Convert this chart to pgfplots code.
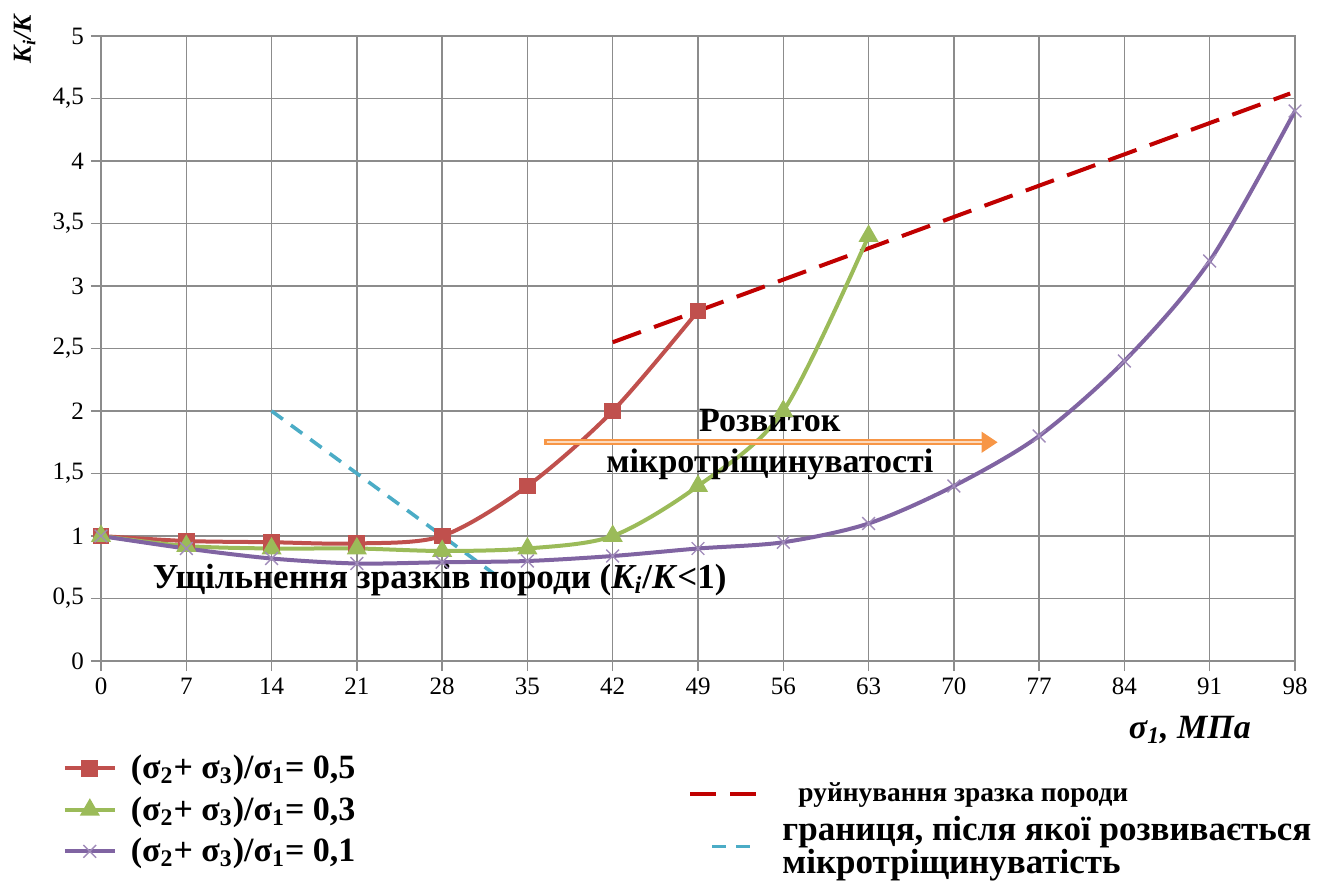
\documentclass[border=0pt]{standalone}
\usepackage{fontspec}
\setmainfont{Liberation Serif}
\usepackage{pgfplots}
\pgfplotsset{compat=1.18}
\usetikzlibrary{arrows.meta}
\definecolor{cRed}{HTML}{C0504D}
\definecolor{cGreen}{HTML}{9BBB59}
\definecolor{cPurple}{HTML}{8064A2}
\definecolor{cDark}{HTML}{C00000}
\definecolor{cCyan}{HTML}{4BACC6}
\definecolor{cOrange}{HTML}{F79646}
\definecolor{cGrid}{HTML}{8C8C8C}
\begin{document}
\begin{tikzpicture}
\path[use as bounding box] (-50.5pt,-110.5pt) rectangle (610pt,330.5pt);
\begin{axis}[
  at={(0,0)}, anchor=south west,
  scale only axis, width=597pt, height=312.5pt,
  xmin=0, xmax=98, ymin=0, ymax=5,
  xtick={0,7,...,98}, ytick={0,0.5,...,5},
  grid=major, grid style={cGrid, line width=0.7pt},
  axis line style={cGrid, line width=0.7pt},
  tick style={cGrid, line width=0.7pt},
  tick align=outside, major tick length=5pt,
  xtick pos=bottom, ytick pos=left,
  ticklabel style={font=\fontsize{12.5}{14}\selectfont},
  /pgf/number format/assume math mode=true,
  /pgf/number format/use comma,
  yticklabel style={/pgf/number format/fixed, /pgf/number format/precision=1},
  xlabel={σ\textsubscript{1}, МПа},
  xlabel style={font=\bfseries\itshape\fontsize{17}{19}\selectfont, at={(rel axis cs:0.912,-0.110)}, anchor=center},
  ylabel={K\textsubscript{\itshape i}/K},
  ylabel style={font=\bfseries\itshape\fontsize{13}{15}\selectfont, at={(rel axis cs:-0.064,0.995)}, anchor=center},
  legend image code/.code={\draw[mark repeat=2,mark phase=2] plot coordinates {(0cm,0cm) (0.44cm,0cm) (0.88cm,0cm)};},
  legend style={at={(rel axis cs:-0.034,-0.140)}, anchor=north west, draw=none, fill=none,
    font=\bfseries\fontsize{17}{19.5}\selectfont, row sep=3.5pt, inner sep=1pt},
  legend cell align=left,
]
% dashed lines
\addplot[cDark, line width=2pt, dash pattern=on 15pt off 7pt, forget plot] coordinates {(42,2.55) (97.6,4.54)};
\addplot[cCyan, line width=1.8pt, dash pattern=on 7pt off 5pt, forget plot] coordinates {(14,2.0) (32.5,0.68)};
% series
\addplot[cRed, line width=2pt, smooth, mark=square*, mark size=3.2pt, mark options={solid,fill=cRed}] coordinates {
(0,1.0) (7,0.96) (14,0.95) (21,0.94) (28,1.0) (35,1.4) (42,2.0) (49,2.8)};
\addlegendentry{\hspace{5pt}(σ\textsubscript{2}+ σ\textsubscript{3})/σ\textsubscript{1}= 0,5}
\addplot[cGreen, line width=2pt, smooth, mark=triangle*, mark size=3.8pt, mark options={solid,fill=cGreen}] coordinates {
(0,1.0) (7,0.92) (14,0.9) (21,0.9) (28,0.88) (35,0.9) (42,1.0) (49,1.4) (56,2.0) (63,3.4)};
\addlegendentry{\hspace{5pt}(σ\textsubscript{2}+ σ\textsubscript{3})/σ\textsubscript{1}= 0,3}
\addplot[cPurple, line width=2pt, smooth, mark=x, mark size=4.5pt, mark options={solid,line width=0.7pt,cPurple!75}] coordinates {
(0,1.0) (7,0.9) (14,0.82) (21,0.78) (28,0.79) (35,0.8) (42,0.84) (49,0.9) (56,0.95) (63,1.1) (70,1.4) (77,1.8) (84,2.4) (91,3.2) (98,4.4)};
\addlegendentry{\hspace{5pt}(σ\textsubscript{2}+ σ\textsubscript{3})/σ\textsubscript{1}= 0,1}
% annotations
\draw[cOrange, line width=3.2pt, -{Triangle[length=8pt,width=10pt]}] (axis cs:36.4,1.75) -- (axis cs:73.6,1.75);
\draw[cOrange!35, line width=1pt] (axis cs:36.6,1.75) -- (axis cs:72.3,1.75);
\node[font=\bfseries\fontsize{17}{20.5}\selectfont, align=center] at (axis cs:54.9,1.73) {Розвиток\\мікротріщинуватості};
\node[font=\bfseries\fontsize{17.5}{19}\selectfont] at (axis cs:27.8,0.65) {Ущільнення зразків породи (\textit{K\textsubscript{i}}/\textit{K}<1)};
\end{axis}
\begin{axis}[
  at={(0,0)}, anchor=south west,
  scale only axis, width=597pt, height=312.5pt,
  hide axis, xmin=0, xmax=1, ymin=0, ymax=1,
  legend style={at={(rel axis cs:0.490,-0.185)}, anchor=north west, draw=none, fill=none,
    font=\bfseries, row sep=1.5pt, inner sep=1pt,
    cells={align=left}},
  legend cell align=left,
]
\addlegendimage{legend image code/.code={\draw[cDark, line width=2pt, dash pattern=on 13pt off 7pt] (0pt,0pt) -- (35pt,0pt);}}
\addlegendentry{\fontsize{13.7}{16}\selectfont\hspace{16pt}руйнування зразка породи}
\addlegendimage{legend image code/.code={\draw[cCyan, line width=1.8pt, dash pattern=on 7pt off 5pt] (11pt,0pt) -- (35pt,0pt);}}
\addlegendentry{\fontsize{17.5}{15.5}\selectfont\hspace{8pt}границя, після якої розвивається\\\fontsize{17.5}{15.5}\selectfont\hspace{8pt}мікротріщинуватість}
\end{axis}
\end{tikzpicture}
\end{document}
